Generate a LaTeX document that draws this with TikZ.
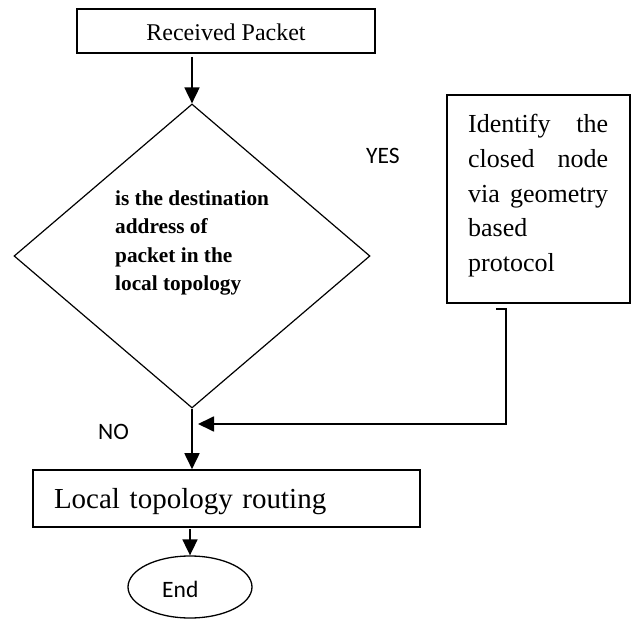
\documentclass[tikz,border=0pt]{standalone}
\usepackage{fontspec}
\setmainfont{Liberation Serif}
\newfontfamily\calfont{Carlito}
\usetikzlibrary{shapes.geometric,arrows.meta}
\begin{document}
\begin{tikzpicture}[x=1pt,y=-1pt,
  box/.style={draw, line width=1.6pt, inner sep=0pt},
  arr/.style={line width=1.8pt, -{Triangle[length=16pt,width=15pt]}},
  lbl/.style={font=\calfont\fontsize{23.5}{28}\selectfont, inner sep=0pt, anchor=base west}]
\useasboundingbox (0,0) rectangle (632,620);

\node[box, minimum width=298pt, minimum height=44pt, text height=19.4pt, text depth=0pt,
  font=\fontsize{24}{28}\selectfont] (top) at (226,31) {Received Packet};

\node[diamond, draw, line width=1.2pt, minimum width=356pt, minimum height=304pt, inner sep=0pt] (dia) at (192,256) {};
\node[anchor=north west, inner sep=0pt, align=left,
  font=\fontsize{21.3}{28.3}\selectfont\bfseries] (q) at (115,190.5)
  {is the destination\\address of\\packet in the\\local topology};

\node[box, minimum width=183pt, minimum height=208pt] (idb) at (538.5,199) {};
\node[anchor=north west, inner sep=0pt, align=left,
  font=\fontsize{26}{34.6}\selectfont] (idt) at (468,114.3)
  {\hbox to 140pt{Identify\hfill the}\\\hbox to 140pt{closed\hfill node}\\\hbox to 140pt{via\hfill geometry}\\based\\protocol};

\node[box, minimum width=387pt, minimum height=57pt, text width=345pt, align=left,
  text height=25.4pt, text depth=6.4pt, font=\fontsize{29}{34}\selectfont] (low) at (226.5,498.5)
  {Local topology routing};

\node[draw, ellipse, line width=1.3pt, minimum width=124pt, minimum height=62pt, inner sep=0pt] (endn) at (190,587) {};
\node[lbl] (endt) at (162,597) {End};
\node[lbl] (yes) at (366,164) {YES};
\node[lbl] (no) at (98,439) {NO};

\draw[arr, shorten <=3pt] (dia.north |- top.south) -- (dia.north);
\draw[arr] (dia.south) -- (dia.south |- low.north);
\draw[arr, shorten <=1pt] (endn.north |- low.south) -- (endn.north);
\coordinate (h0) at (496,309);
\coordinate (h1) at (506,309);
\coordinate (h2) at (506,424);
\coordinate (h3) at (198,424);
\draw[arr] (h0) -- (h1) -- (h2) -- (h3);
\end{tikzpicture}
\end{document}
